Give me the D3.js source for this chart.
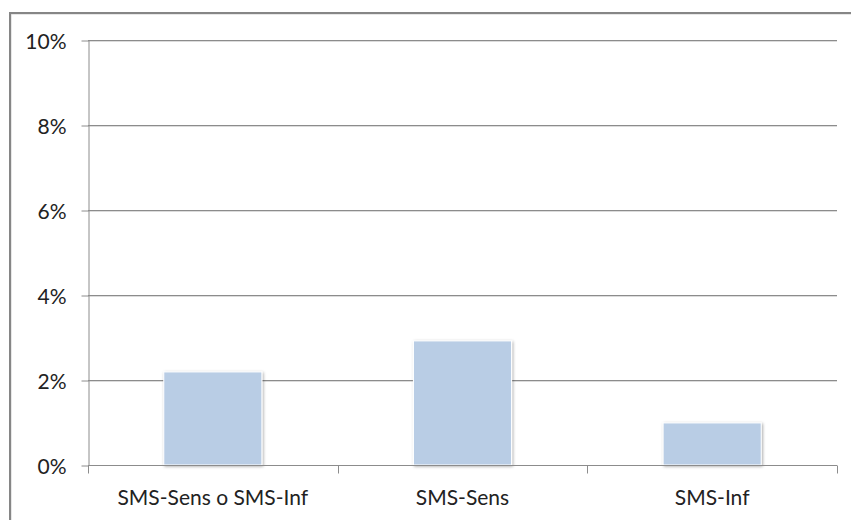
<!DOCTYPE html>
<html>
<head>
<meta charset="utf-8">
<script src="https://cdn.jsdelivr.net/npm/d3@7"></script>
<style>
  body { margin: 0; background: #fff; }
  svg { display: block; }
  text { font-family: Lato, "Open Sans", sans-serif; fill: #222; }
</style>
</head>
<body>
<svg id="chart" width="851" height="520"></svg>
<script>
const categories = ["SMS-Sens o SMS-Inf", "SMS-Sens", "SMS-Inf"];
const values = [0.0219, 0.0292, 0.0099];
const yTicks = [0, 0.02, 0.04, 0.06, 0.08, 0.10];

const svg = d3.select("#chart");
const margin = { left: 88, right: 14, top: 40, bottom: 55 };
const W = 851, H = 520;

const defs = svg.append("defs");
const f = defs.append("filter").attr("id", "shadow")
  .attr("x", "-10%").attr("y", "-10%").attr("width", "130%").attr("height", "130%");
f.append("feDropShadow").attr("dx", 1).attr("dy", 1).attr("stdDeviation", 1.6)
  .attr("flood-color", "#000").attr("flood-opacity", 0.35);

// outer frame
svg.append("rect").attr("x", 11).attr("y", 14).attr("width", 900).attr("height", 600)
  .attr("fill", "none").attr("stroke", "#d0d0d0").attr("stroke-width", 1);
svg.append("rect").attr("x", 10).attr("y", 13).attr("width", 900).attr("height", 600)
  .attr("fill", "none").attr("stroke", "#868686").attr("stroke-width", 2);

const x = d3.scaleBand().domain(categories)
  .range([margin.left, W - margin.right]).paddingInner(0.607).paddingOuter(0.3035);
const y = d3.scaleLinear().domain([0, 0.10]).range([H - margin.bottom, margin.top]);

// gridlines
const grid = svg.append("g");
grid.selectAll("line.sh").data(yTicks.slice(1)).join("line")
  .attr("x1", margin.left).attr("x2", W - margin.right)
  .attr("y1", d => Math.round(y(d)) + 1.5).attr("y2", d => Math.round(y(d)) + 1.5)
  .attr("stroke", "#dcdcdc").attr("stroke-width", 1);
grid.selectAll("line.g").data(yTicks.slice(1)).join("line")
  .attr("x1", margin.left).attr("x2", W - margin.right)
  .attr("y1", d => Math.round(y(d)) + 0.5).attr("y2", d => Math.round(y(d)) + 0.5)
  .attr("stroke", "#8c8c8c").attr("stroke-width", 1);

// bars
svg.append("g").selectAll("rect").data(values).join("rect")
  .attr("x", (d, i) => x(categories[i]))
  .attr("width", x.bandwidth())
  .attr("y", d => y(d))
  .attr("height", d => y(0) - y(d))
  .attr("fill", "#b9cde5")
  .attr("stroke", "#ffffff").attr("stroke-width", 1)
  .attr("filter", "url(#shadow)");

// y axis
const yAxis = svg.append("g").attr("transform", `translate(${margin.left + 0.5},0.5)`)
  .call(d3.axisLeft(y).tickValues(yTicks).tickFormat(d3.format(".0%")).tickSize(7).tickSizeOuter(0));
yAxis.select(".domain").attr("stroke", "#8c8c8c");
yAxis.selectAll(".tick line").attr("stroke", "#8c8c8c");
yAxis.selectAll(".tick text").attr("x", -22).attr("dy", "0.36em")
  .style("font-size", "21px").style("font-family", "Lato, sans-serif").attr("fill", "#222");

// x axis
const xAxis = svg.append("g").attr("transform", `translate(0,${Math.round(y(0)) + 0.5})`);
xAxis.append("line").attr("x1", margin.left).attr("x2", W - margin.right)
  .attr("stroke", "#8c8c8c");
const bounds = [margin.left].concat(categories.map(c => x(c) + x.bandwidth() + x.step() * x.paddingInner() / 2));
bounds[bounds.length - 1] = W - margin.right;
xAxis.selectAll("line.t").data(bounds).join("line")
  .attr("x1", d => Math.round(d) + 0.5).attr("x2", d => Math.round(d) + 0.5)
  .attr("y1", 0).attr("y2", 8).attr("stroke", "#8c8c8c");
xAxis.selectAll("text").data(categories).join("text")
  .attr("x", d => x(d) + x.bandwidth() / 2).attr("y", 39)
  .attr("text-anchor", "middle")
  .style("font-size", "21px").text(d => d);
</script>
</body>
</html>
